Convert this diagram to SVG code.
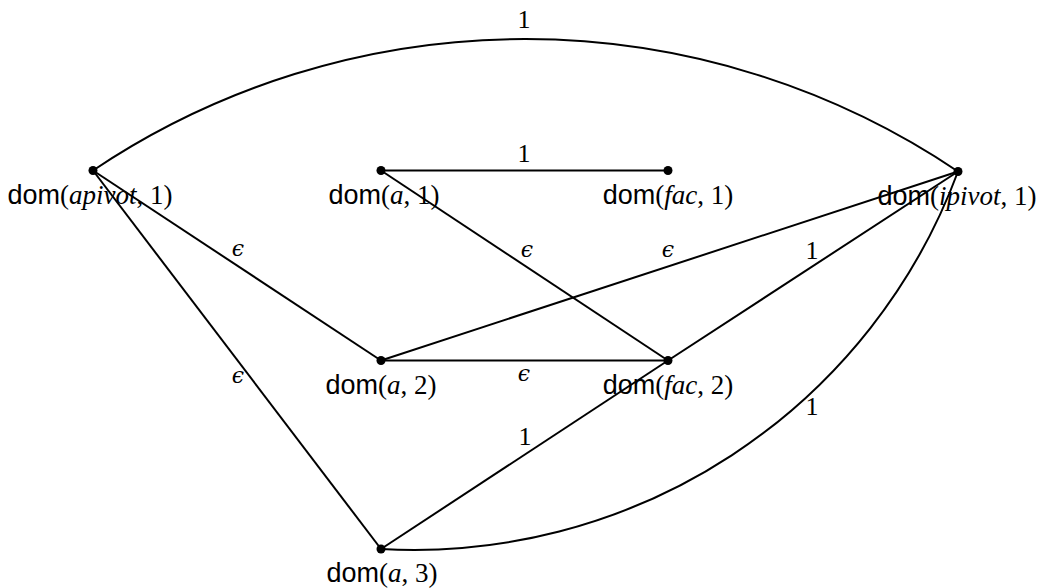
<svg xmlns="http://www.w3.org/2000/svg" width="1037" height="588" viewBox="0 0 1037 588">
<style>
.e{stroke:#000;stroke-width:2;fill:none}
.d{fill:#000}
.lbl{font-family:"Liberation Serif","DejaVu Serif",serif;font-size:27px;fill:#000;text-anchor:middle}
.sf{font-family:"Liberation Sans","DejaVu Sans",sans-serif}
.it{font-style:italic}
.el{font-family:"Liberation Serif","DejaVu Serif",serif;font-size:26px;fill:#000;text-anchor:middle}
.eps{font-family:"DejaVu Serif","Liberation Serif",serif;font-size:22px;font-style:italic}
</style>
<rect width="1037" height="588" fill="#fff"/>
<g id="connectors">
<path class="e" d="M93,170.5 A775,775 0 0 1 958,171.5"/>
<path class="e" d="M381,549 A580,580 0 0 0 958,171.5"/>
<line class="e" x1="381" y1="170.5" x2="668" y2="170.5"/>
<line class="e" x1="93" y1="170.5" x2="381" y2="360.5"/>
<line class="e" x1="93" y1="170.5" x2="381" y2="549"/>
<line class="e" x1="381" y1="170.5" x2="668" y2="360.5"/>
<line class="e" x1="381" y1="360.5" x2="958" y2="171.5"/>
<line class="e" x1="381" y1="360.5" x2="668" y2="360.5"/>
<line class="e" x1="381" y1="549" x2="668" y2="360.5"/>
<line class="e" x1="668" y1="360.5" x2="958" y2="171.5"/>
<text class="el" x="524" y="28">1</text>
<text class="el" x="524" y="162">1</text>
<text class="el eps" x="238" y="256">ϵ</text>
<text class="el eps" x="238" y="383">ϵ</text>
<text class="el eps" x="527" y="257">ϵ</text>
<text class="el eps" x="668" y="257">ϵ</text>
<text class="el" x="812" y="259">1</text>
<text class="el eps" x="524" y="381">ϵ</text>
<text class="el" x="525" y="445">1</text>
<text class="el" x="812" y="415">1</text>
</g>
<g id="n-apivot"><circle class="d" cx="93" cy="170.5" r="4.5"/><text class="lbl" x="90" y="204"><tspan class="sf">dom</tspan>(<tspan class="it">apivot</tspan>, 1)</text></g>
<g id="n-a1"><circle class="d" cx="381" cy="170.5" r="4.5"/><text class="lbl" x="384" y="204"><tspan class="sf">dom</tspan>(<tspan class="it">a</tspan>, 1)</text></g>
<g id="n-fac1"><circle class="d" cx="668" cy="170.5" r="4.5"/><text class="lbl" x="668" y="204"><tspan class="sf">dom</tspan>(<tspan class="it">fac</tspan>, 1)</text></g>
<g id="n-ipivot"><circle class="d" cx="958" cy="171.5" r="4.5"/><text class="lbl" x="957" y="205"><tspan class="sf">dom</tspan>(<tspan class="it">ipivot</tspan>, 1)</text></g>
<g id="n-a2"><circle class="d" cx="381" cy="360.5" r="4.5"/><text class="lbl" x="381" y="394"><tspan class="sf">dom</tspan>(<tspan class="it">a</tspan>, 2)</text></g>
<g id="n-fac2"><circle class="d" cx="668" cy="360.5" r="4.5"/><text class="lbl" x="668" y="394"><tspan class="sf">dom</tspan>(<tspan class="it">fac</tspan>, 2)</text></g>
<g id="n-a3"><circle class="d" cx="381" cy="549" r="4.5"/><text class="lbl" x="382" y="582"><tspan class="sf">dom</tspan>(<tspan class="it">a</tspan>, 3)</text></g>
</svg>
